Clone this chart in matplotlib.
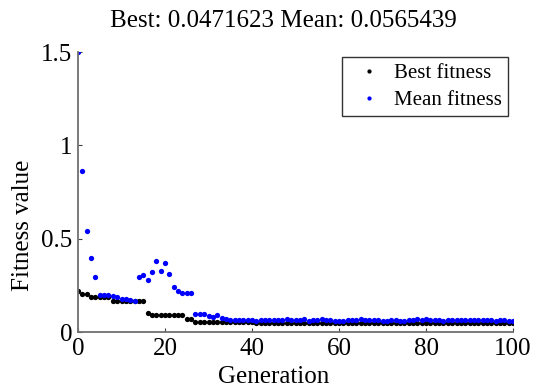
import matplotlib as mpl
import matplotlib.pyplot as plt

mpl.use('Agg')

plt.rcParams['font.family'] = ['Liberation Serif', 'DejaVu Serif']

geracao = list(range(0, 101))

best = [0.221, 0.204, 0.204, 0.190, 0.190, 0.190, 0.190, 0.190,
        0.168, 0.168, 0.168, 0.168, 0.168, 0.168, 0.168, 0.168,
        0.104, 0.089, 0.089, 0.089, 0.089, 0.089, 0.089, 0.089, 0.089,
        0.068, 0.068,
        0.053, 0.053, 0.053, 0.053, 0.053, 0.053, 0.053,
        0.053, 0.053, 0.053, 0.053, 0.053, 0.053, 0.053,
        0.051, 0.051, 0.051, 0.051, 0.051, 0.051, 0.051, 0.051, 0.051, 0.051,
        0.051, 0.051, 0.051, 0.051, 0.051, 0.051, 0.051, 0.051, 0.051, 0.051,
        0.049, 0.049, 0.049, 0.049, 0.049, 0.049, 0.049, 0.049, 0.049, 0.049,
        0.049, 0.049, 0.049, 0.049, 0.049, 0.049, 0.049, 0.049, 0.049, 0.049,
        0.049, 0.049, 0.049, 0.049, 0.049,
        0.048, 0.048, 0.048, 0.048, 0.048, 0.048, 0.048,
        0.048, 0.048, 0.048, 0.048, 0.048, 0.048, 0.048,
        0.0471623]

mean = [1.500, 0.865, 0.540, 0.395, 0.296, 0.200, 0.197, 0.197, 0.193, 0.186,
        0.175, 0.175, 0.172, 0.168, 0.293, 0.307, 0.279, 0.321, 0.378, 0.327,
        0.368, 0.310, 0.239, 0.221, 0.210, 0.210, 0.210, 0.096, 0.096, 0.094,
        0.086, 0.080, 0.090, 0.075, 0.068, 0.066, 0.064, 0.062, 0.064, 0.066,
        0.062, 0.060, 0.064, 0.066, 0.066, 0.062, 0.062, 0.064, 0.068, 0.066,
        0.062, 0.066, 0.068, 0.060, 0.066, 0.064, 0.068, 0.064, 0.062, 0.060,
        0.060, 0.060, 0.064, 0.064, 0.066, 0.068, 0.064, 0.064, 0.062, 0.062,
        0.060, 0.060, 0.064, 0.064, 0.060, 0.060, 0.064, 0.066, 0.070, 0.064,
        0.072, 0.066, 0.062, 0.062, 0.060, 0.064, 0.066, 0.062, 0.064, 0.062,
        0.066, 0.066, 0.066, 0.064, 0.062, 0.062, 0.060, 0.066, 0.062, 0.060,
        0.0565439]

fig = plt.figure(figsize=(5.35, 3.87), dpi=100)
ax = fig.add_axes([0.1458, 0.142, 0.8132, 0.7236])

ax.plot(geracao, best, 'o', color='black', markersize=3.8, markeredgewidth=0,
        label='Best fitness')
ax.plot(geracao, mean, 'o', color='#0000ff', markersize=3.8, markeredgewidth=0,
        label='Mean fitness')

ax.set_xlim(0, 100)
ax.set_ylim(0, 1.5)
ax.set_xticks([0, 20, 40, 60, 80, 100])
ax.set_yticks([0, 0.5, 1, 1.5])
ax.set_yticklabels(['0', '0.5', '1', '1.5'])

for lado in ['top', 'right']:
    ax.spines[lado].set_visible(False)
for lado in ['left', 'bottom']:
    ax.spines[lado].set_color('#707070')
    ax.spines[lado].set_linewidth(1.3)

ax.tick_params(direction='in', length=3, width=0.8, colors='#404040',
               labelcolor='black', labelsize=18, pad=4)

ax.set_xlabel('Generation', fontsize=18)
ax.xaxis.set_label_coords(0.45, -0.12)
ax.set_ylabel('Fitness value', fontsize=18)
ax.yaxis.set_label_coords(-0.1, 0.38)
ax.set_title('Best: 0.0471623 Mean: 0.0565439', fontsize=18, x=0.471, pad=18)

leg = ax.legend(loc='upper right', fontsize=15, frameon=True, fancybox=False,
                edgecolor='black', borderaxespad=0.25, handlelength=1.9,
                markerscale=0.8, labelspacing=0.35, borderpad=0.3,
                handletextpad=0.26)
leg.get_frame().set_linewidth(1.0)

plt.savefig('out.png', dpi=100)
